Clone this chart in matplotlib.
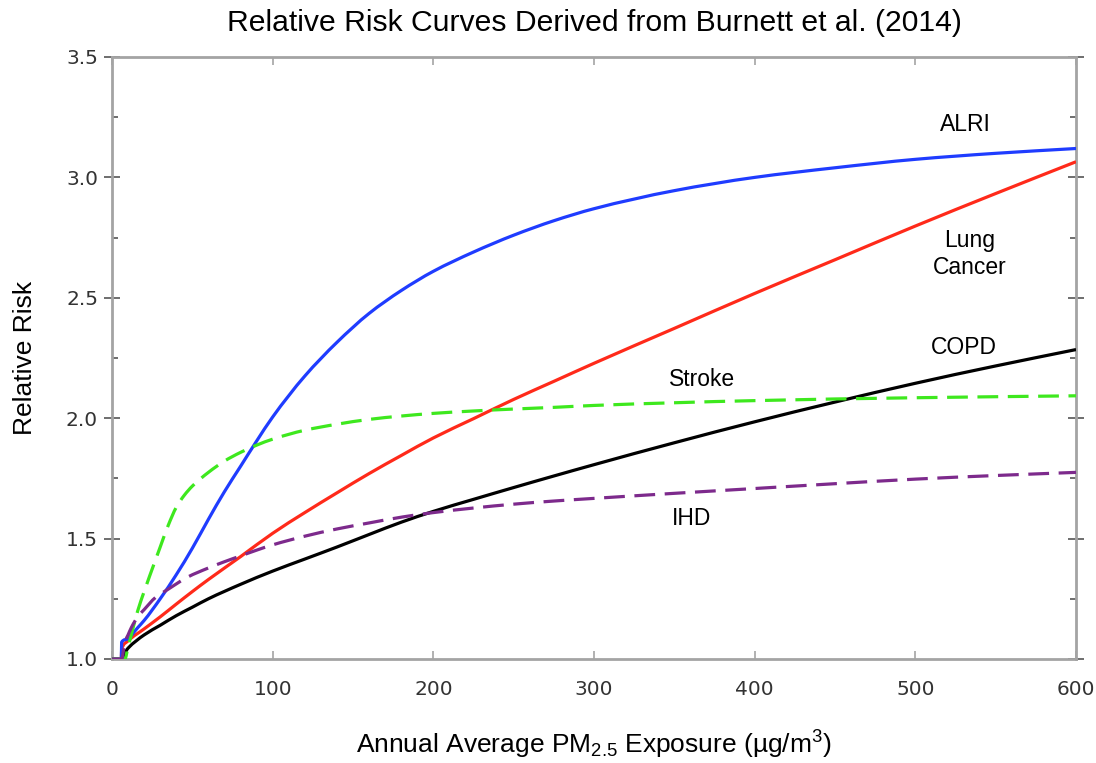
import matplotlib
matplotlib.use("Agg")
import numpy as np
import matplotlib.pyplot as plt
from matplotlib.path import Path
from matplotlib.patches import PathPatch
from matplotlib.ticker import MultipleLocator

plt.rcParams['mathtext.fontset'] = 'custom'
plt.rcParams['mathtext.rm'] = 'Liberation Sans'
plt.rcParams['mathtext.it'] = 'Liberation Sans:italic'
plt.rcParams['mathtext.bf'] = 'Liberation Sans:bold'

# ---- data ----
alri_x = [0, 5.8, 6, 10, 16, 20, 30, 40, 50, 60, 70, 80, 90, 100, 120, 140, 160, 180,
          200, 225, 250, 275, 300, 350, 400, 450, 500, 550, 600]
alri_y = [1.0, 1.0, 1.07, 1.085, 1.13, 1.16, 1.25, 1.35, 1.46, 1.58, 1.695, 1.80, 1.905,
          2.005, 2.175, 2.315, 2.435, 2.53, 2.61, 2.69, 2.76, 2.82, 2.87, 2.945, 3.0, 3.04,
          3.075, 3.10, 3.12]

lung_x = [0, 5.8, 6, 10, 20, 30, 40, 50, 60, 80, 100, 120, 140, 160, 180, 200, 225, 250,
          275, 300, 350, 400, 450, 500, 550, 600]
lung_y = [1.0, 1.0, 1.04, 1.075, 1.125, 1.175, 1.228, 1.28, 1.33, 1.425, 1.522, 1.608,
          1.69, 1.77, 1.845, 1.918, 1.998, 2.078, 2.153, 2.228, 2.373, 2.518, 2.658, 2.798,
          2.933, 3.065]

copd_x = [0, 5, 10, 20, 30, 40, 50, 60, 80, 100, 120, 140, 160, 180, 200, 225, 250, 275,
          300, 350, 400, 450, 500, 550, 600]
copd_y = [1.0, 1.0, 1.045, 1.10, 1.14, 1.18, 1.215, 1.25, 1.31, 1.365, 1.415, 1.465, 1.517,
          1.568, 1.613, 1.663, 1.712, 1.76, 1.807, 1.898, 1.985, 2.067, 2.145, 2.217, 2.285]

stroke_x = [0, 8, 10, 12, 16, 20, 27, 30, 35, 40, 45, 50, 60, 70, 80, 90, 100, 120, 140,
            160, 180, 200, 225, 250, 275, 300, 400, 500, 600]
stroke_y = [1.0, 1.0, 1.05, 1.10, 1.20, 1.28, 1.41, 1.465, 1.555, 1.63, 1.68, 1.718,
            1.775, 1.822, 1.858, 1.888, 1.913, 1.95, 1.975, 1.995, 2.009, 2.02, 2.03, 2.038,
            2.045, 2.053, 2.073, 2.085, 2.093]

ihd_x = [0, 6, 8, 10, 12, 16, 20, 27, 35, 47, 60, 70, 80, 90, 100, 120, 140, 160, 181,
         200, 225, 250, 275, 300, 350, 400, 450, 500, 550, 600]
ihd_y = [1.0, 1.0, 1.07, 1.10, 1.13, 1.175, 1.205, 1.255, 1.29, 1.34, 1.378, 1.404, 1.428,
         1.452, 1.474, 1.51, 1.54, 1.565, 1.59, 1.608, 1.627, 1.643, 1.656, 1.667, 1.688,
         1.708, 1.728, 1.747, 1.762, 1.775]

x_ticks = [0, 100, 200, 300, 400, 500, 600]
y_ticks = [1.0, 1.5, 2.0, 2.5, 3.0, 3.5]


def smooth_path(xs, ys):
    """Monotone cubic Bezier path through the read points (drawn by matplotlib)."""
    xs = np.asarray(xs, float)
    ys = np.asarray(ys, float)
    h = np.diff(xs)
    d = np.diff(ys) / h
    n = len(xs)
    m = np.zeros(n)
    m[0], m[-1] = d[0], d[-1]
    for i in range(1, n - 1):
        if d[i - 1] * d[i] <= 0:
            m[i] = 0.0
        else:
            w1 = 2 * h[i] + h[i - 1]
            w2 = h[i] + 2 * h[i - 1]
            m[i] = (w1 + w2) / (w1 / d[i - 1] + w2 / d[i])
    verts = [(xs[0], ys[0])]
    codes = [Path.MOVETO]
    for i in range(n - 1):
        verts += [(xs[i] + h[i] / 3, ys[i] + m[i] * h[i] / 3),
                  (xs[i + 1] - h[i] / 3, ys[i + 1] - m[i + 1] * h[i] / 3),
                  (xs[i + 1], ys[i + 1])]
        codes += [Path.CURVE4] * 3
    return Path(verts, codes)


fig = plt.figure(figsize=(10.96, 7.63), dpi=100)
ax = fig.add_axes([112/1096, 1 - 659/763, (1076-112)/1096, (659-57)/763])

lw = 2.3
series = [
    (copd_x, copd_y, 'black', '-'),
    (lung_x, lung_y, '#ff2a1a', '-'),
    (alri_x, alri_y, '#1f3cff', '-'),
    (stroke_x, stroke_y, '#3ee81e', (0, (6.5, 3))),
    (ihd_x, ihd_y, '#7d2a8c', (0, (6.5, 3))),
]
for xs, ys, c, ls in series:
    ax.add_patch(PathPatch(smooth_path(xs, ys), fill=False, edgecolor=c, lw=lw,
                           linestyle=ls, zorder=3, joinstyle='round'))

ax.set_xlim(0, 600)
ax.set_ylim(1.0, 3.5)
ax.set_xticks(x_ticks)
ax.set_yticks(y_ticks)
ax.set_yticklabels([f"{v:.1f}" for v in y_ticks])
ax.yaxis.set_minor_locator(MultipleLocator(0.25))

spine_c = '#a4a4a4'
for s in ax.spines.values():
    s.set_color(spine_c)
    s.set_linewidth(2)

ax.tick_params(axis='x', which='major', direction='in', length=6, width=1.2, color=spine_c,
               top=True, labelsize=14.5, labelcolor='#333333', pad=15)
ax.tick_params(axis='y', which='major', direction='inout', length=12, width=1.2, color='#555555',
               right=True, labelsize=14.5, labelcolor='#333333', pad=4)
ax.tick_params(axis='y', which='minor', direction='in', length=4, width=1.2, color='#555555',
               right=True)

tfont = 'Liberation Sans'
fig.text(594/1096, 1 - 23/763, 'Relative Risk Curves Derived from Burnett et al. (2014)',
         family=tfont, fontsize=21.7, ha='center', va='center')
ax.set_xlabel('Annual Average PM$_{2.5}$ Exposure (\u00b5g/m$^3$)', family=tfont,
              fontsize=19, va='center')
ax.xaxis.set_label_coords(0.5, -(745 - 659) / 602)
ax.set_ylabel('Relative Risk', family=tfont, fontsize=19, va='center')
ax.yaxis.set_label_coords((25 - 112) / 964, 0.5)

lbl = dict(family=tfont, fontsize=16.5, ha='center', va='center')
ax.text(531, 3.218, 'ALRI', **lbl)
ax.text(534, 2.682, 'Lung\nCancer', linespacing=1.25, **lbl)
ax.text(530, 2.293, 'COPD', **lbl)
ax.text(367, 2.159, 'Stroke', **lbl)
ax.text(361, 1.585, 'IHD', **lbl)

fig.savefig('out.png', dpi=100)
